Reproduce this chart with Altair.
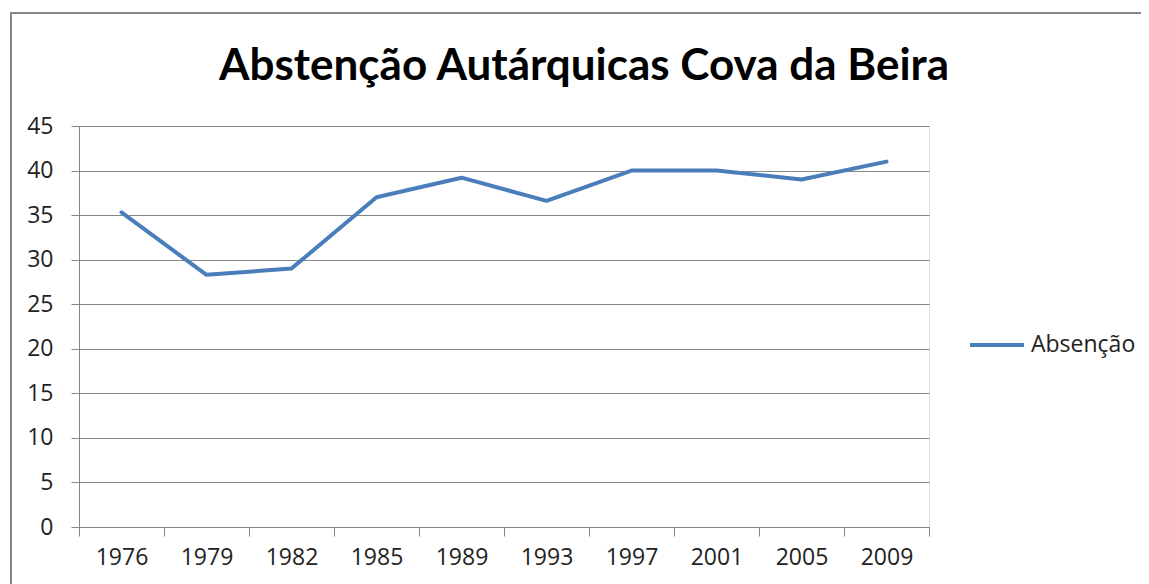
import altair as alt
import pandas as pd

years = ["1976", "1979", "1982", "1985", "1989", "1993", "1997", "2001", "2005", "2009"]
values = [35.3, 28.3, 29.0, 37.0, 39.2, 36.6, 40.0, 40.0, 39.0, 41.0]
series = "Absenção"
title_text = "Abstenção Autárquicas Cova da Beira"

df = pd.DataFrame({"year": years, "value": values, "series": [series] * len(years)})

FONT = "Open Sans"
LBL = 23

line = alt.Chart(df).mark_line(strokeWidth=4, strokeCap="round", strokeJoin="round").encode(
    x=alt.X(
        "year:O",
        sort=years,
        bandPosition=0.5,
        scale=alt.Scale(type="band", paddingInner=0, paddingOuter=0),
        axis=alt.Axis(
            title=None,
            tickBand="extent",
            labelAngle=0,
            grid=False,
            domainColor="#868686",
            tickColor="#868686",
            tickSize=9,
            labelPadding=10,
            labelFontSize=LBL,
            labelColor="#222222",
            labelFont=FONT,
        ),
    ),
    y=alt.Y(
        "value:Q",
        scale=alt.Scale(domain=[0, 45], nice=False),
        axis=alt.Axis(
            title=None,
            values=list(range(0, 50, 5)),
            grid=True,
            gridColor="#868686",
            gridWidth=1,
            domainColor="#868686",
            tickColor="#868686",
            tickSize=8,
            labelPadding=18,
            labelFontSize=LBL,
            labelColor="#222222",
            labelFont=FONT,
        ),
    ),
    color=alt.Color(
        "series:N",
        scale=alt.Scale(range=["#4A7EBB"]),
        legend=alt.Legend(
            title=None,
            orient="none",
            legendX=889,
            legendY=190,
            symbolType="stroke",
            symbolSize=2900,
            symbolStrokeWidth=4,
            labelFontSize=LBL,
            labelFont=FONT,
            labelColor="#222222",
            labelOffset=5,
        ),
    ),
)

border = alt.Chart(pd.DataFrame({"a": [0]})).mark_rect(
    fill=None, stroke="#868686", strokeWidth=2
).encode(
    x=alt.value(-68), x2=alt.value(1100), y=alt.value(-113), y2=alt.value(600)
)

title = alt.Chart(pd.DataFrame({"t": [title_text]})).mark_text(
    font="Lato", fontSize=44, fontWeight="bold", color="#000000",
    align="center", baseline="alphabetic"
).encode(
    text="t:N", x=alt.value(505), y=alt.value(-46)
)

chart = alt.layer(border, line, title).properties(
    width=850,
    height=401,
    autosize=alt.AutoSizeParams(type="none"),
    padding={"left": 71, "top": 118, "right": 212, "bottom": 57},
).configure_view(stroke=None).configure(background="white")

chart.save("out.html", embed_options={"renderer": "svg", "actions": False})
